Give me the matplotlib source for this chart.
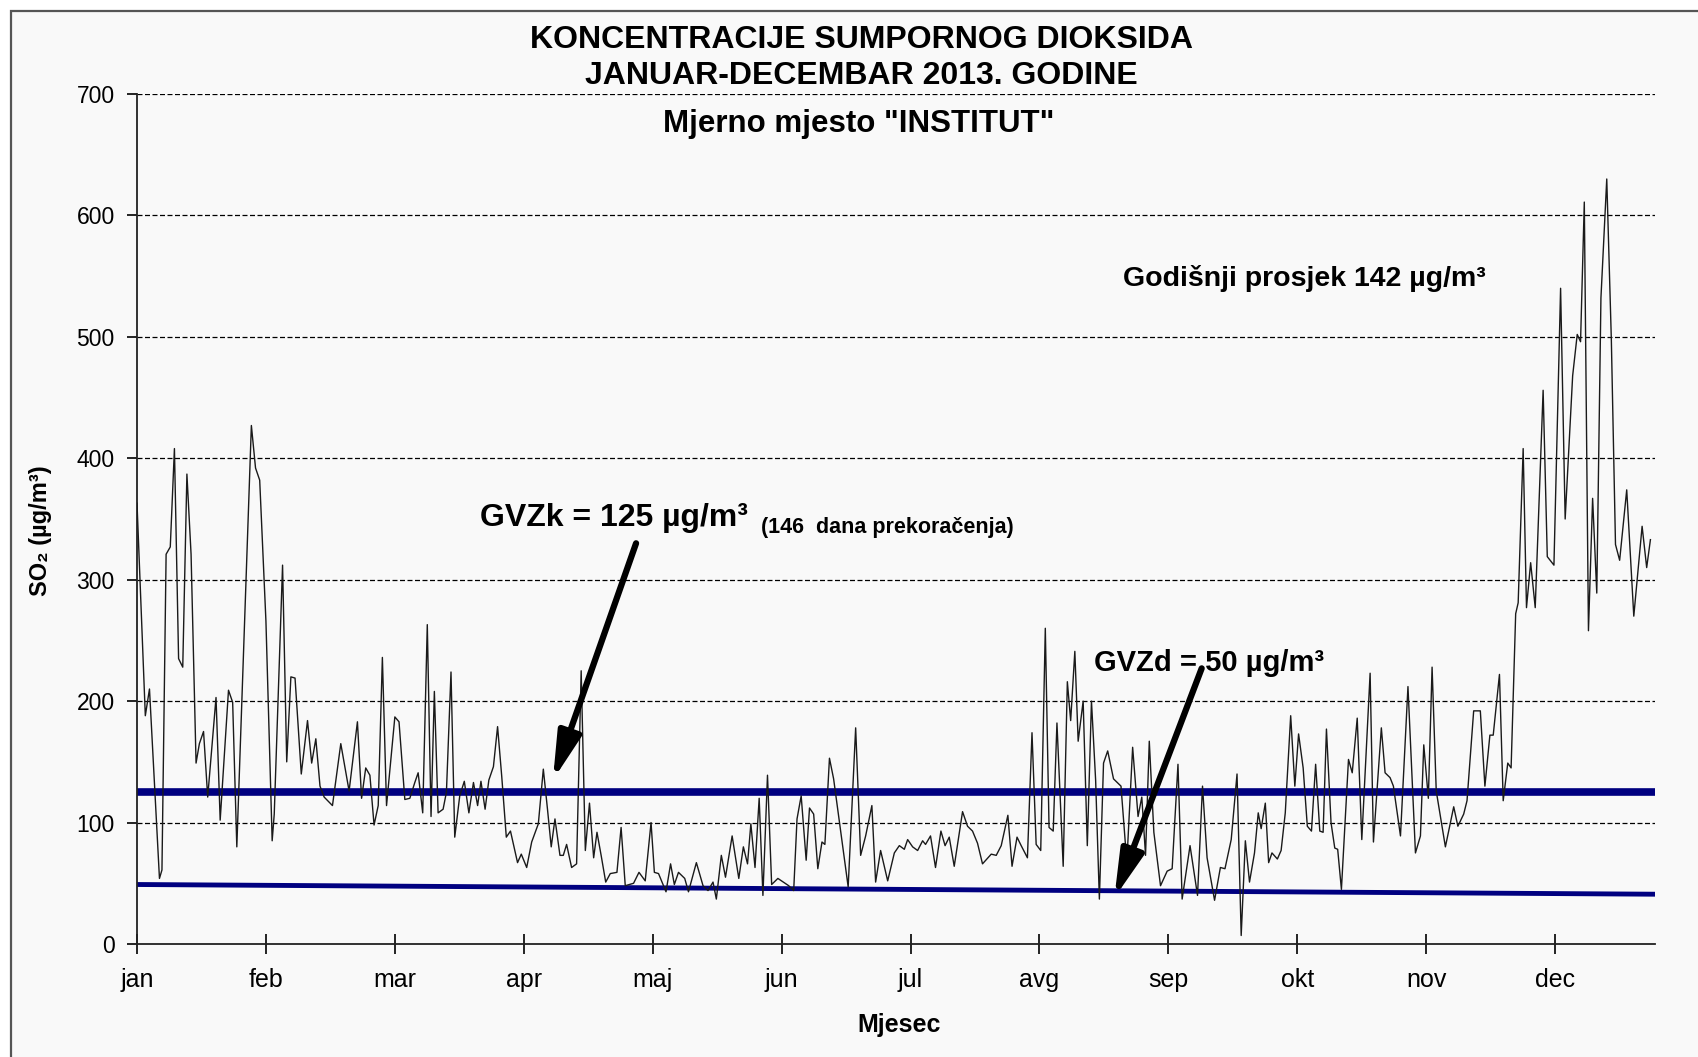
import matplotlib
matplotlib.use("Agg")
import matplotlib.pyplot as plt
from matplotlib.patches import Rectangle

plt.rcParams['font.family'] = ['Liberation Sans', 'DejaVu Sans']

# daily SO2 values (day of year, ug/m3), split by period
days_jan_feb = [0, 2, 3, 5.4, 6, 7, 8, 9, 10, 11, 12, 13, 14.2, 15, 16, 17, 19, 20, 22, 23, 24,
                27.5, 28.5, 29.5, 31, 32.5, 33, 35, 36, 37, 38, 39.5, 41, 42, 43, 44, 45, 47,
                49, 51, 53, 54, 55, 56, 57, 58, 59, 60]
so2_jan_feb = [363, 188, 210, 54, 61, 321, 327, 408, 235, 228, 387, 321, 149, 165, 175, 121, 203, 102, 209, 199, 80,
               427, 392, 382, 266, 85, 107, 312, 150, 220, 219, 140, 184, 149, 169, 130, 121, 114,
               165, 126, 183, 120, 145, 139, 98, 114, 236, 114]

days_mar_apr = [62, 63, 64.4, 65.6, 66.8, 67.6, 68.7, 69.8, 70.7, 71.5, 72.4, 73.6, 74.4, 75.5, 76.4,
                77.6, 78.7, 79.8, 80.9, 81.9, 82.7, 83.7, 84.6, 85.7, 86.7, 87.7, 88.8, 89.8, 91.5,
                92.4, 93.7, 94.9, 96.5, 97.7, 98.7, 99.6, 100.5, 101.7, 102.5, 103.3, 104.5, 105.7,
                106.8, 107.8, 108.8, 109.8, 110.6, 111.6, 112.7, 113.8, 115.4, 116.4, 117.4, 119.4,
                120.7, 122.2, 123.6]
so2_mar_apr = [187, 183, 119, 120, 133, 141, 108, 263, 105, 208, 108, 111, 125, 224, 88,
               122, 134, 108, 133, 114, 134, 111, 135, 146, 179, 138, 88, 93, 67,
               74, 63, 84, 99, 144, 111, 80, 103, 73, 73, 82, 63, 66,
               225, 77, 116, 71, 92, 73, 51, 58, 59, 96, 48, 50,
               59, 52, 100]

days_may_jun = [124.4, 125.4, 127.2, 128.3, 129.2, 130.2, 131.7, 132.6, 134.5, 136.1, 137.3, 138.5,
                139.3, 140.5, 141.5, 143.1, 144.7, 145.8, 146.8, 147.6, 148.6, 149.6, 150.5, 151.6,
                152.6, 154.1, 156.7, 157.9, 158.7, 159.7, 160.9, 161.7, 162.7, 163.7, 164.7, 165.4,
                166.5, 167.5, 168.8, 171, 172.8, 174, 175.2, 176.7, 177.6, 178.8, 180.5, 182.1,
                183.3, 184.5, 185.3]
so2_may_jun = [59, 58, 43, 66, 49, 59, 54, 43, 67, 48, 44, 51,
               37, 73, 55, 89, 54, 80, 66, 99, 63, 120, 40, 139,
               49, 54, 48, 44, 103, 122, 69, 112, 107, 62, 84, 82,
               153, 136, 103, 47, 178, 73, 89, 114, 51, 77, 52, 75,
               81, 78, 86]

days_jul_aug = [186.5, 187.7, 188.9, 189.6, 190.8, 192, 193.3, 194.3, 195.3, 196.5, 198.5, 199.7,
                200.9, 202.1, 203.3, 205.4, 206.6, 207.8, 209.4, 210.4, 211.6, 212.6, 214.1, 215.2,
                216.2, 217.3, 218.4, 219.3, 220.3, 221.2, 222.7, 223.7, 224.5, 225.5, 226.3, 227.5,
                228.5, 229.5, 230.5, 231.4, 232.4, 233.4, 234.8, 236.6, 238, 239.4, 240.7, 241.6,
                242.5, 243.4, 244.5, 246.1, 247.7]
so2_jul_aug = [80, 77, 85, 82, 89, 63, 93, 81, 88, 64, 109, 97,
               93, 83, 66, 74, 73, 81, 106, 64, 88, 81, 71, 174,
               82, 77, 260, 96, 93, 182, 64, 216, 184, 241, 167, 200,
               81, 200, 135, 37, 149, 159, 136, 130, 67, 162, 105, 121,
               73, 167, 92, 48, 60]

days_sep_oct = [248.9, 250.3, 251.3, 253.2, 255, 256.2, 257.3, 259.1, 260.5, 261.6, 263.1, 264.5,
                265.5, 266.5, 267.5, 268.7, 269.6, 270.3, 271.3, 272.1, 272.9, 274.2, 275.1, 276.1,
                277.4, 278.4, 279.3, 280.4, 281.4, 282.4, 283.4, 284.4, 285.2, 286, 287.1, 288,
                288.7, 289.6, 291.3, 292.2, 293.4, 294.5, 296.5, 297.3, 299.2, 300.1, 301.3, 302.1,
                303.8, 305.6, 307.4, 308.6]
so2_sep_oct = [62, 148, 37, 81, 40, 130, 71, 36, 63, 62, 86, 140,
               7, 85, 51, 75, 108, 95, 116, 67, 75, 70, 77, 108,
               188, 130, 173, 145, 97, 93, 148, 93, 92, 177, 100, 79,
               78, 45, 152, 141, 186, 86, 223, 84, 178, 141, 137, 130,
               89, 212, 75, 89]

days_nov_dec = [309.4, 310.5, 311.4, 312.4, 314.6, 316.6, 317.6, 319, 319.8, 321.4, 323, 324.1,
                325.3, 326.1, 327.6, 328.5, 329.6, 330.4, 331.5, 332.1, 333.3, 334.1, 335.1, 336.2,
                338.1, 339.1, 340.7, 342.3, 343.4, 345.2, 346.3, 347.1, 348, 349, 350, 351,
                352, 353.4, 354.5, 355.5, 356.5, 358.2, 359.9, 361.9, 363, 363.9]
so2_nov_dec = [164, 120, 228, 126, 80, 113, 97, 107, 118, 192, 192, 130,
               172, 172, 222, 118, 149, 145, 272, 281, 408, 277, 314, 277,
               456, 319, 312, 540, 350, 468, 502, 496, 611, 258, 367, 289,
               532, 630, 498, 329, 316, 374, 270, 344, 310, 333]

months = ['jan', 'feb', 'mar', 'apr', 'maj', 'jun', 'jul', 'avg', 'sep', 'okt', 'nov', 'dec']
month_ticks = [0, 31, 62, 93, 124, 155, 186, 217, 248, 279, 310, 341]

# limit values
gvzk_x = [0, 365]
gvzk_y = [125, 125]
gvzd_x = [0, 365]
gvzd_y = [49, 41]

days = (days_jan_feb + days_mar_apr + days_may_jun + days_jul_aug
        + days_sep_oct + days_nov_dec)
so2 = (so2_jan_feb + so2_mar_apr + so2_may_jun + so2_jul_aug
       + so2_sep_oct + so2_nov_dec)

W, H = 1698, 1057
fig = plt.figure(figsize=(W / 100, H / 100), dpi=100)
fig.patch.set_facecolor('white')

# light gray chart area with a frame (drawn behind the axes)
fig.patches.append(Rectangle((11 / W, -0.02), 1.05, 1 - 11 / H + 0.02,
                             transform=fig.transFigure, facecolor='#F9F9F9',
                             edgecolor='#555555', lw=1.6, zorder=-5))

ax = fig.add_axes([137 / W, 1 - 944 / H, (1655 - 137) / W, (944 - 94) / H])
ax.set_facecolor('none')

ax.plot(days, so2, color='#1a1a1a', lw=1.0, zorder=3)
ax.plot(gvzk_x, gvzk_y, color='#000080', lw=5.5, solid_capstyle='butt', zorder=2)
ax.plot(gvzd_x, gvzd_y, color='#000080', lw=3.5, solid_capstyle='butt', zorder=2)

ax.set_xlim(0, 365)
ax.set_ylim(0, 700)
ax.set_yticks(range(0, 701, 100))
ax.set_xticks(month_ticks)
ax.set_xticklabels(months)

for y in range(100, 701, 100):
    ax.axhline(y, color='black', lw=0.9, ls=(0, (4, 2)), zorder=1)

for s in ['top', 'right']:
    ax.spines[s].set_visible(False)
for s in ['left', 'bottom']:
    ax.spines[s].set_linewidth(1.3)
    ax.spines[s].set_color('#222222')

ax.tick_params(axis='y', direction='out', length=7, width=1.2, labelsize=16.5, pad=9)
ax.tick_params(axis='x', direction='inout', length=14, width=1.2, labelsize=18, pad=10)

# titles
fig.text(861 / W, 1 - 40 / H, 'KONCENTRACIJE SUMPORNOG DIOKSIDA', ha='center', va='center',
         fontsize=23, fontweight='bold')
fig.text(861 / W, 1 - 76 / H, 'JANUAR-DECEMBAR 2013. GODINE', ha='center', va='center',
         fontsize=23, fontweight='bold')
fig.text(859 / W, 1 - 124 / H, 'Mjerno mjesto "INSTITUT"', ha='center', va='center',
         fontsize=22.5, fontweight='bold')

fig.text(40 / W, 1 - 531 / H, 'SO₂ (µg/m³)', rotation=90, ha='center', va='center',
         fontsize=17, fontweight='bold')
fig.text(899 / W, 1 - 1025 / H, 'Mjesec', ha='center', va='center',
         fontsize=18, fontweight='bold')

fig.text(1123 / W, 1 - 279 / H, 'Godišnji prosjek 142 µg/m³', ha='left', va='center',
         fontsize=20.5, fontweight='bold')
fig.text(480 / W, 1 - 518 / H, 'GVZk = 125 µg/m³', ha='left', va='center',
         fontsize=23, fontweight='bold')
fig.text(761 / W, 1 - 528 / H, '(146  dana prekoračenja)', ha='left', va='center',
         fontsize=15.5, fontweight='bold')
fig.text(1094 / W, 1 - 663 / H, 'GVZd = 50 µg/m³', ha='left', va='center',
         fontsize=21, fontweight='bold')

arrow = dict(arrowstyle='-|>,head_length=1.4,head_width=0.35', lw=4.5, color='black',
             shrinkA=0, shrinkB=0, mutation_scale=20)
ax.annotate('', xy=(100, 135), xytext=(120, 330), arrowprops=arrow, zorder=5)
ax.annotate('', xy=(235, 38), xytext=(256, 227), arrowprops=arrow, zorder=5)

fig.savefig('out.png', dpi=100)
